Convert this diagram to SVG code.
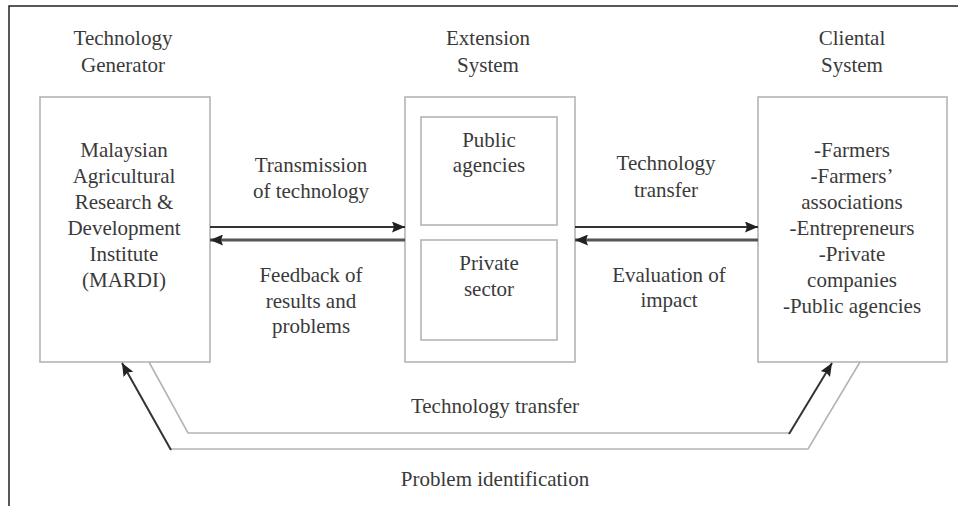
<svg xmlns="http://www.w3.org/2000/svg" width="958" height="506" viewBox="0 0 958 506">
  <style>
    text { font-family: "Liberation Serif", "Noto Serif", "DejaVu Serif", FreeSerif, "Nimbus Roman", Times, serif; font-size: 21px; fill: #3a3a3a; text-anchor: middle; }
    .box { fill: #ffffff; stroke: #b4b4b4; stroke-width: 1.6; }
    .frame { fill: none; stroke: #222222; stroke-width: 1.5; }
    .flow { fill: none; stroke: #333333; stroke-width: 2; }
    .flow2 { fill: none; stroke: #555555; stroke-width: 3; }
    .loop { fill: none; stroke: #b4b4b4; stroke-width: 1.6; }
  </style>
  <defs>
    <marker id="head" viewBox="0 0 13 11" refX="13" refY="5.5" markerWidth="13" markerHeight="11" markerUnits="userSpaceOnUse" orient="auto">
      <path d="M0,0 L13,5.5 L0,11 L2,5.5 Z" fill="#222222"/>
    </marker>
  </defs>

  <rect width="958" height="506" fill="#ffffff"/>
  <!-- page frame: top and left rules only -->
  <path class="frame" d="M9,506 L9,6 L958,6"/>

  <!-- column titles -->
  <text x="123" y="45">Technology</text>
  <text x="123" y="72">Generator</text>
  <text x="488" y="45">Extension</text>
  <text x="488" y="72">System</text>
  <text x="852" y="45">Cliental</text>
  <text x="852" y="72">System</text>

  <g id="generator">
    <rect class="box" x="40" y="97" width="170" height="265"/>
    <text x="124" y="157">Malaysian</text>
    <text x="124" y="183">Agricultural</text>
    <text x="124" y="209">Research &amp;</text>
    <text x="124" y="235">Development</text>
    <text x="124" y="261">Institute</text>
    <text x="124" y="287">(MARDI)</text>
  </g>

  <g id="extension">
    <rect class="box" x="405" y="97" width="170" height="265"/>
    <g id="public">
      <rect class="box" x="421" y="117" width="136" height="108"/>
      <text x="489" y="147">Public</text>
      <text x="489" y="172">agencies</text>
    </g>
    <g id="private">
      <rect class="box" x="421" y="240" width="136" height="100"/>
      <text x="489" y="270">Private</text>
      <text x="489" y="296">sector</text>
    </g>
  </g>

  <g id="client">
    <rect class="box" x="758" y="97" width="189" height="265"/>
    <text x="852" y="157">-Farmers</text>
    <text x="852" y="183">-Farmers’</text>
    <text x="852" y="209">associations</text>
    <text x="852" y="235">-Entrepreneurs</text>
    <text x="852" y="261">-Private</text>
    <text x="852" y="287">companies</text>
    <text x="852" y="313">-Public agencies</text>
  </g>

  <g id="connectors">
    <!-- generator <-> extension -->
    <line class="flow" x1="210" y1="227" x2="405" y2="227" marker-end="url(#head)"/>
    <line class="flow2" x1="405" y1="240" x2="210" y2="240" marker-end="url(#head)"/>
    <!-- extension <-> client -->
    <line class="flow" x1="575" y1="227" x2="758" y2="227" marker-end="url(#head)"/>
    <line class="flow2" x1="758" y1="240" x2="575" y2="240" marker-end="url(#head)"/>

    <!-- direct technology transfer loop -->
    <path class="loop" d="M149,362 L188,433 L790,433"/>
    <line class="flow" x1="789" y1="434" x2="832" y2="363" marker-end="url(#head)"/>
    <!-- problem identification loop -->
    <path class="loop" d="M860,362 L808,449 L170,449"/>
    <line class="flow" x1="171" y1="450" x2="122" y2="363" marker-end="url(#head)"/>
  </g>

  <!-- connector labels -->
  <text x="311" y="172">Transmission</text>
  <text x="311" y="198">of technology</text>
  <text x="311" y="282">Feedback of</text>
  <text x="311" y="308">results and</text>
  <text x="311" y="333">problems</text>
  <text x="666" y="170">Technology</text>
  <text x="666" y="197">transfer</text>
  <text x="669" y="282">Evaluation of</text>
  <text x="669" y="307">impact</text>
  <text x="495" y="413">Technology transfer</text>
  <text x="495" y="486">Problem identification</text>
</svg>
